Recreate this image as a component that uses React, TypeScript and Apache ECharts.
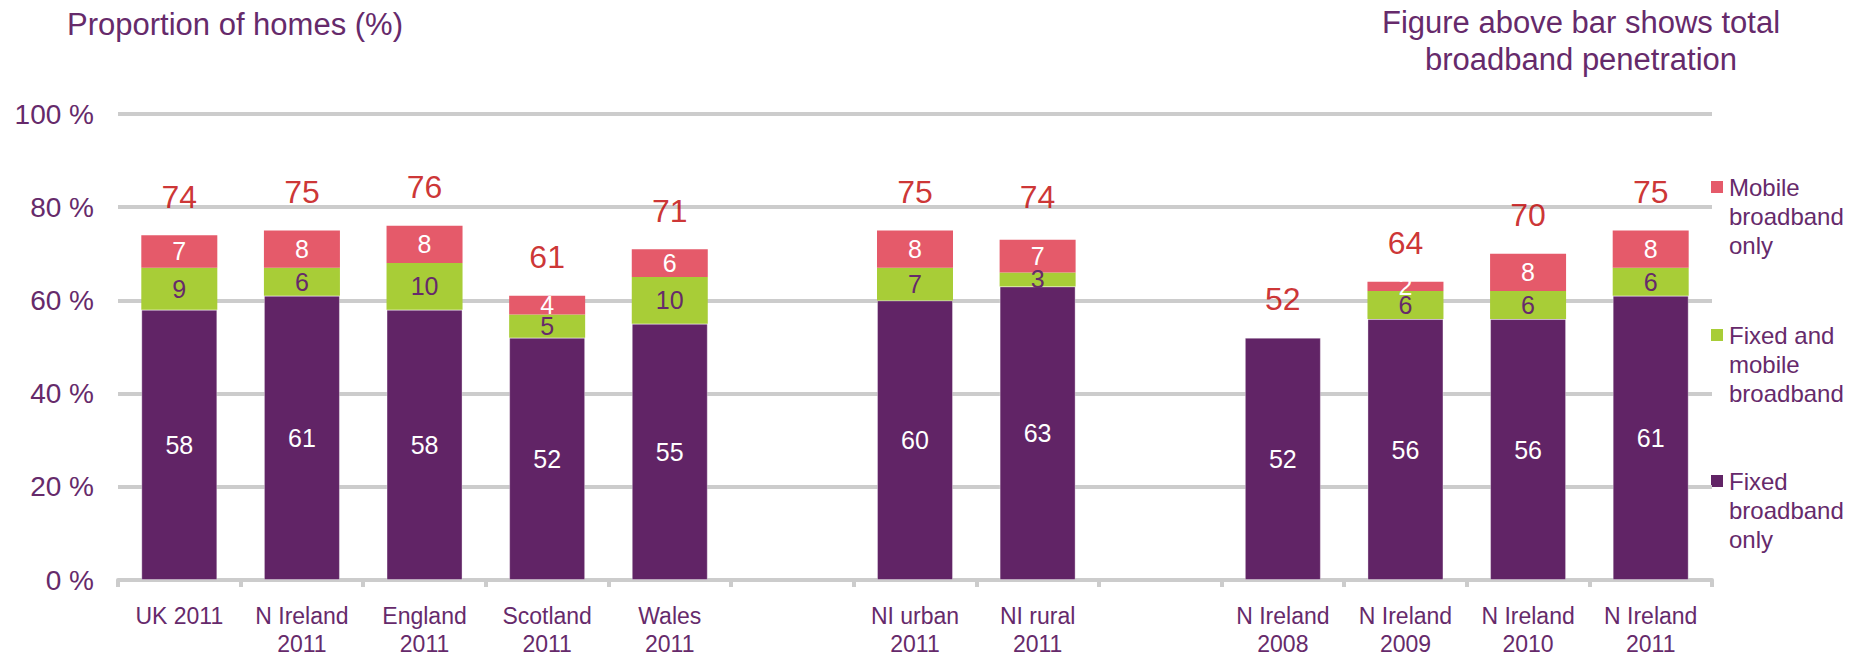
import React, { useEffect, useRef } from "react";
import * as echarts from "echarts";

const categories = [
  "UK 2011",
  "N Ireland\n2011",
  "England\n2011",
  "Scotland\n2011",
  "Wales\n2011",
  "",
  "NI urban\n2011",
  "NI rural\n2011",
  "",
  "N Ireland\n2008",
  "N Ireland\n2009",
  "N Ireland\n2010",
  "N Ireland\n2011",
];
const fixedOnly = [58, 61, 58, 52, 55, null, 60, 63, null, 52, 56, 56, 61];
const fixedAndMobile = [9, 6, 10, 5, 10, null, 7, 3, null, 0, 6, 6, 6];
const mobileOnly = [7, 8, 8, 4, 6, null, 8, 7, null, 0, 2, 8, 8];
const totals = [74, 75, 76, 61, 71, null, 75, 74, null, 52, 64, 70, 75];

const seriesNames = ["Fixed broadband only", "Fixed and mobile broadband", "Mobile broadband only"];
const legendNames = ["Mobile\nbroadband\nonly", "Fixed and\nmobile\nbroadband", "Fixed\nbroadband\nonly"];
const yTicks = { min: 0, max: 100, interval: 20 };
const titleLeft = "Proportion of homes (%)";
const titleRight = "Figure above bar shows total\nbroadband penetration";

const PURPLE = "#612466";
const GREEN = "#a8cd37";
const PINK = "#e55a6a";
const TEXT = "#662a6b";
const RED = "#c00000";
const GRID = "#cccccc";
const FONT = "'Liberation Sans', Arial, sans-serif";

export default function App() {
  const ref = useRef<HTMLDivElement>(null);
  useEffect(() => {
    if (!ref.current) return;
    const chart = echarts.init(ref.current, undefined, { renderer: "svg" });
    const hideZero = (p: any) => (p.value ? String(p.value) : "");
    const segLabel = (color: string) => ({
      show: true,
      position: "inside",
      color,
      fontSize: 25,
      fontFamily: FONT,
      formatter: hideZero,
    });
    const legendColors = [PINK, GREEN, PURPLE];
    const legendCenters = [187, 335, 481];
    const legendGraphics: any[] = [];
    legendNames.forEach((n, i) => {
      legendGraphics.push({
        type: "rect",
        shape: { x: 1711, y: legendCenters[i] - 6, width: 12, height: 12 },
        style: { fill: legendColors[i] },
      });
      legendGraphics.push({
        type: "text",
        x: 1729,
        y: legendCenters[i] - 14.5,
        style: {
          text: n,
          fill: TEXT,
          font: `24px ${FONT}`,
          lineHeight: 29,
          verticalAlign: "top",
          align: "left",
        },
      });
    });
    chart.setOption({
      animation: false,
      textStyle: { fontFamily: FONT },
      grid: { left: 118, right: 151, top: 114, bottom: 76, containLabel: false },
      xAxis: {
        type: "category",
        data: categories,
        axisLine: { show: true, lineStyle: { color: GRID, width: 4 } },
        axisTick: { show: true, length: 7, lineStyle: { color: GRID, width: 4 } },
        axisLabel: {
          color: TEXT,
          fontSize: 23,
          lineHeight: 28,
          margin: 22,
          interval: 0,
          fontFamily: FONT,
        },
      },
      yAxis: {
        type: "value",
        min: yTicks.min,
        max: yTicks.max,
        interval: yTicks.interval,
        axisLine: { show: false },
        axisTick: { show: false },
        axisLabel: {
          color: TEXT,
          fontSize: 28,
          margin: 24,
          formatter: "{value} %",
          fontFamily: FONT,
        },
        splitLine: { show: true, lineStyle: { color: GRID, width: 4 } },
      },
      series: [
        {
          name: seriesNames[0],
          type: "bar",
          stack: "total",
          data: fixedOnly,
          barWidth: 76,
          itemStyle: { color: PURPLE, borderColor: "rgba(255,255,255,0.35)", borderWidth: 1 },
          label: segLabel("#ffffff"),
        },
        {
          name: seriesNames[1],
          type: "bar",
          stack: "total",
          data: fixedAndMobile,
          barWidth: 76,
          itemStyle: { color: GREEN },
          label: segLabel(TEXT),
        },
        {
          name: seriesNames[2],
          type: "bar",
          stack: "total",
          data: mobileOnly,
          barWidth: 76,
          itemStyle: { color: PINK },
          label: segLabel("#ffffff"),
        },
        {
          name: "Total",
          type: "scatter",
          data: totals,
          symbol: "circle",
          symbolSize: 1,
          itemStyle: { color: "rgba(0,0,0,0)" },
          z: 5,
          label: {
            show: true,
            position: "top",
            distance: 22,
            color: RED,
            fontSize: 32,
            fontFamily: FONT,
            formatter: (p: any) => String(p.value),
          },
        },
      ],
      graphic: [
        {
          type: "text",
          x: 67,
          y: 24,
          style: {
            text: titleLeft,
            fill: TEXT,
            font: `31px ${FONT}`,
            verticalAlign: "middle",
            align: "left",
          },
        },
        {
          type: "text",
          x: 1581,
          y: 3.5,
          style: {
            text: titleRight,
            fill: TEXT,
            font: `31px ${FONT}`,
            lineHeight: 37,
            verticalAlign: "top",
            align: "center",
          },
        },
        ...legendGraphics,
      ],
    });
    return () => chart.dispose();
  }, []);
  return (
    <div
      ref={ref}
      style={{ position: "absolute", left: 0, top: 0, width: 1863, height: 658, background: "#fff" }}
    />
  );
}
